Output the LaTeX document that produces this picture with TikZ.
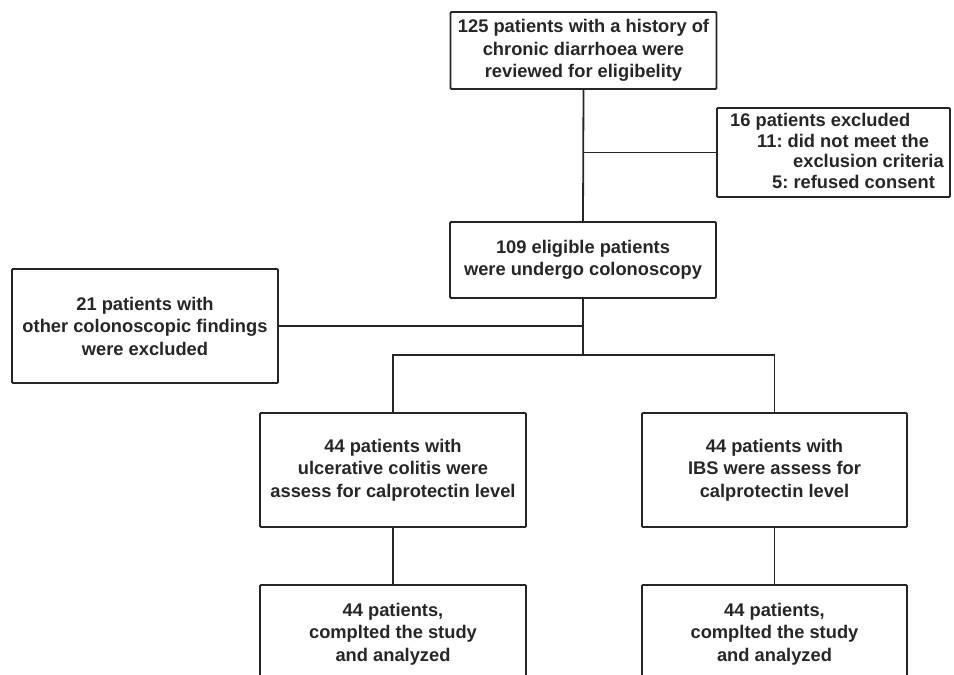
\documentclass[tikz,border=0pt]{standalone}
\usepackage{fontspec}
\setmainfont{Liberation Sans}
\frenchspacing
\begin{document}
\begin{tikzpicture}[x=1pt,y=-1pt,
  txt/.style={font=\fontsize{18.3pt}{22.5pt}\selectfont\bfseries,text=black!85},
  box/.style={draw=black!85,line width=1.8pt,rounded corners=1pt,minimum width=#1,inner sep=0pt,align=center,txt},
  box/.default=266pt,
  conn/.style={draw=black!85,line width=1.8pt}]
\useasboundingbox (0,0) rectangle (954,675);
\clip (0,0) rectangle (954,675);
\node[box,minimum height=77pt] (n125) at (583.5,50.5) {125 patients with a history of\\chronic diarrhoea were\\reviewed for eligibelity};
\node[box=233pt,minimum height=89pt] (n16) at (833.5,152.5) {};
\node[anchor=north west,inner sep=0pt,align=left,txt,font=\fontsize{18.3pt}{20.7pt}\selectfont\bfseries] (t16) at (730,113)
  {16 patients excluded\\\hspace*{27pt}11: did not meet the\\\hspace*{63pt}exclusion criteria\\\hspace*{42pt}5: refused consent};
\node[box,minimum height=76pt] (n109) at (583,260) {109 eligible patients\\were undergo colonoscopy};
\node[box,minimum height=114pt] (n21) at (145,326) {21 patients with\\other colonoscopic findings\\were excluded};
\node[box,minimum height=114pt] (nuc) at (393,470) {44 patients with\\ulcerative colitis were\\assess for calprotectin level};
\node[box=265pt,minimum height=114pt] (nibs) at (774.5,470) {44 patients with\\IBS were assess for\\calprotectin level};
\node[box,minimum height=114pt] (nucd) at (393,642) {};
\node[txt,align=center,inner sep=0pt] (tucd) at (393,634) {44 patients,\\complted the study\\and analyzed};
\node[box=265pt,minimum height=114pt] (nibsd) at (774.5,642) {};
\node[txt,align=center,inner sep=0pt] (tibsd) at (774.5,634) {44 patients,\\complted the study\\and analyzed};
\coordinate (split) at (583,355);
\draw[conn] (n125.south) -- (n109.north);
\draw[conn] (n125.south |- n16.west) -- (n16.west);
\draw[conn] (n109.south |- n21.east) -- (n21.east);
\draw[conn] (n109.south) -- (split);
\draw[conn] (nuc.north) |- (split) -| (nibs.north);
\draw[conn] (nuc.south) -- (nucd.north);
\draw[conn] (nibs.south) -- (nibsd.north);
\end{tikzpicture}
\end{document}
